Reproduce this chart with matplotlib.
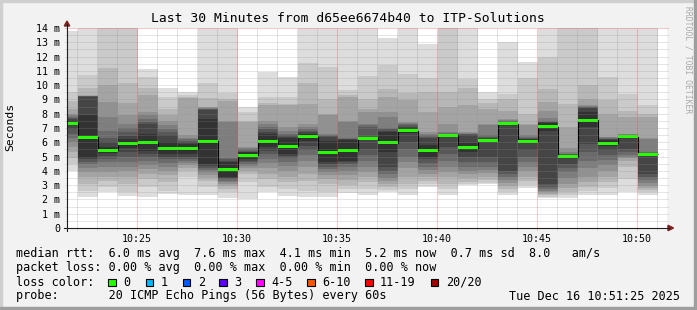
import matplotlib
matplotlib.use("Agg")
import matplotlib.pyplot as plt
from matplotlib.patches import Rectangle, Polygon
from matplotlib.lines import Line2D
import numpy as np

W, H = 697, 310
MONO = "DejaVu Sans Mono"

# 20 sorted ping times (ms) for each one-minute step, 10:21 .. 10:51
pings = [
    [4.0, 4.5, 4.9, 5.3, 5.7, 6.0, 6.3, 6.6, 6.9, 7.2, 7.5, 7.6, 7.7, 7.8, 7.9, 8.0, 8.35, 8.9, 9.5, 13.8],
    [2.2, 2.6, 3.1, 3.6, 3.9, 4.2, 4.45, 4.65, 4.8, 4.9, 7.9, 9.2, 9.22, 9.23, 9.24, 9.25, 9.3, 9.8, 10.7, 14.5],
    [2.55, 2.9, 3.3, 3.6, 3.95, 4.3, 4.6, 4.85, 5.05, 5.25, 5.7, 6.0, 6.3, 6.8, 7.75, 8.8, 10.0, 11.2, 14.2, 14.5],
    [2.25, 2.55, 3.1, 3.6, 4.0, 4.3, 4.65, 5.0, 5.3, 5.6, 6.2, 6.45, 6.7, 7.0, 7.3, 7.9, 8.75, 10.15, 14.2, 14.5],
    [2.2, 2.9, 3.4, 3.8, 4.1, 4.4, 4.7, 4.95, 5.2, 5.4, 6.6, 7.3, 7.4, 7.6, 7.9, 8.1, 9.3, 9.8, 10.6, 11.1],
    [2.35, 2.6, 3.2, 3.7, 4.0, 4.3, 4.55, 4.8, 5.0, 5.2, 6.0, 6.5, 6.7, 6.9, 7.2, 7.5, 7.9, 8.3, 9.2, 9.8],
    [2.3, 3.6, 4.0, 4.2, 4.4, 4.55, 4.7, 4.85, 5.0, 5.2, 5.9, 6.0, 6.1, 6.2, 6.3, 6.5, 9.1, 9.2, 9.3, 9.55],
    [2.3, 2.9, 3.3, 3.5, 3.7, 3.9, 4.05, 4.2, 4.35, 4.5, 7.6, 8.25, 8.3, 8.35, 8.4, 8.45, 8.5, 9.1, 10.15, 14.5],
    [2.1, 2.5, 2.75, 2.95, 3.1, 3.2, 3.3, 3.4, 3.5, 3.6, 4.6, 4.7, 4.8, 4.9, 7.4, 7.5, 8.9, 9.0, 9.45, 14.5],
    [2.05, 3.2, 3.8, 4.0, 4.2, 4.35, 4.5, 4.6, 4.7, 4.85, 5.3, 5.35, 5.4, 5.5, 5.6, 5.7, 7.4, 7.5, 8.1, 8.5],
    [2.5, 2.9, 3.4, 3.8, 4.2, 4.55, 4.85, 5.15, 5.4, 5.65, 6.6, 6.7, 6.9, 7.1, 7.3, 7.5, 8.6, 8.75, 9.2, 10.95],
    [2.25, 2.7, 3.2, 3.6, 4.0, 4.35, 4.65, 4.9, 5.05, 5.15, 6.3, 6.4, 6.5, 6.6, 6.8, 7.1, 8.6, 8.7, 9.2, 10.6],
    [2.15, 2.6, 3.3, 3.8, 4.3, 4.7, 5.1, 5.45, 5.75, 6.1, 6.6, 6.7, 6.8, 6.9, 7.1, 7.3, 8.7, 10.15, 11.55, 14.5],
    [2.2, 2.5, 3.1, 3.45, 3.7, 3.9, 4.1, 4.3, 4.45, 4.6, 6.1, 6.4, 6.45, 6.5, 6.6, 7.9, 8.0, 9.0, 11.3, 14.5],
    [2.45, 2.7, 3.0, 3.35, 3.7, 4.0, 4.25, 4.45, 4.6, 4.7, 6.15, 6.2, 6.25, 6.3, 7.4, 7.5, 9.2, 9.3, 9.65, 14.5],
    [2.3, 2.7, 3.2, 3.6, 3.9, 4.3, 4.7, 5.1, 5.55, 6.25, 6.35, 6.4, 7.1, 7.2, 7.3, 8.1, 8.3, 9.0, 10.66, 14.5],
    [2.5, 2.65, 2.85, 3.05, 3.3, 3.5, 3.75, 4.0, 4.3, 5.35, 6.7, 6.8, 6.9, 7.0, 7.8, 8.1, 9.2, 9.75, 11.4, 13.3],
    [2.3, 2.7, 3.1, 3.6, 4.2, 4.6, 5.0, 5.5, 6.0, 6.65, 7.0, 7.1, 7.2, 7.3, 7.35, 7.4, 8.95, 9.45, 10.75, 14.5],
    [2.9, 3.1, 3.3, 3.6, 3.8, 4.05, 4.3, 4.55, 4.8, 5.0, 5.8, 6.3, 6.4, 6.5, 6.6, 6.7, 8.1, 9.55, 10.5, 12.85],
    [2.3, 2.7, 3.1, 3.6, 3.9, 4.3, 4.7, 5.2, 5.7, 6.4, 6.5, 6.55, 6.6, 6.65, 6.7, 7.3, 8.5, 9.5, 14.3, 14.6],
    [3.0, 3.1, 3.25, 3.5, 3.8, 4.0, 4.3, 4.6, 5.0, 5.35, 5.95, 6.5, 6.55, 6.6, 6.65, 6.7, 8.6, 9.8, 10.4, 14.5],
    [3.05, 3.15, 3.35, 3.6, 3.85, 4.05, 4.3, 4.6, 5.0, 6.0, 6.25, 6.3, 6.4, 6.5, 7.2, 7.3, 8.35, 8.75, 9.0, 9.55],
    [2.3, 2.55, 2.75, 2.95, 3.15, 3.35, 3.55, 3.75, 4.0, 7.25, 7.35, 7.4, 7.45, 7.5, 7.55, 7.6, 8.2, 9.0, 9.35, 13.05],
    [2.8, 3.0, 3.3, 3.6, 4.0, 4.3, 4.6, 5.0, 5.45, 5.95, 6.2, 6.25, 6.3, 6.4, 6.5, 7.2, 7.3, 8.0, 10.5, 11.6],
    [2.1, 2.2, 2.3, 2.4, 2.5, 2.6, 2.75, 2.9, 3.1, 6.8, 7.35, 7.4, 7.45, 7.5, 7.7, 8.2, 8.8, 9.7, 12.0, 14.5],
    [2.1, 2.3, 2.5, 2.8, 3.1, 3.5, 3.9, 4.2, 4.5, 4.9, 5.05, 5.1, 5.15, 5.2, 5.3, 5.6, 7.1, 8.7, 14.4, 14.8],
    [2.3, 2.6, 2.9, 3.2, 3.6, 4.2, 4.7, 5.3, 5.9, 7.05, 8.1, 8.4, 8.45, 8.5, 8.55, 8.6, 9.05, 10.0, 14.4, 14.8],
    [2.3, 2.8, 3.2, 3.6, 4.0, 4.4, 4.75, 5.1, 5.45, 5.75, 6.15, 6.2, 6.25, 6.3, 6.35, 6.4, 8.0, 8.95, 10.55, 14.5],
    [2.5, 3.4, 4.3, 4.7, 4.9, 5.0, 5.1, 5.3, 5.55, 6.35, 6.4, 6.42, 6.45, 6.5, 6.55, 6.6, 7.8, 8.2, 9.4, 14.5],
    [2.33, 2.5, 2.65, 2.8, 2.95, 3.15, 3.35, 3.55, 3.8, 5.12, 5.18, 5.2, 5.25, 5.3, 6.2, 6.3, 7.8, 8.0, 8.6, 14.5],
]

# median rtt per minute (ms), green marks
medians = [7.32, 6.34, 5.46, 5.9, 5.99, 5.6, 5.55, 6.06, 4.1, 5.08,
           6.09, 5.71, 6.39, 5.32, 5.43, 6.27, 5.97, 6.81, 5.43, 6.48,
           5.62, 6.13, 7.3, 6.06, 7.09, 4.99, 7.56, 5.95, 6.39, 5.15]

minute_ticks = [25, 30, 35, 40, 45, 50]
minute_labels = ["10:25", "10:30", "10:35", "10:40", "10:45", "10:50"]
y_ticks = list(range(0, 15))
y_labels = ["0"] + ["%d m" % v for v in range(1, 15)]

loss_labels = ["0", "1", "2", "3", "4-5", "6-10", "11-19", "20/20"]
loss_colors = ["#26ff00", "#00b8ff", "#0059ff", "#5e00ff", "#ff00ff", "#ff5500", "#ff0000", "#a10000"]

title = "Last 30 Minutes from d65ee6674b40 to ITP-Solutions"
rtt_line = "median rtt:  6.0 ms avg  7.6 ms max  4.1 ms min  5.2 ms now  0.7 ms sd  8.0   am/s"
loss_line = "packet loss: 0.00 % avg  0.00 % max  0.00 % min  0.00 % now"
probe_line = "probe:       20 ICMP Echo Pings (56 Bytes) every 60s"
stamp = "Tue Dec 16 10:51:25 2025"


def fx(x):
    return x / W


def fy(y):
    return 1 - y / H


fig = plt.figure(figsize=(W / 100, H / 100), dpi=100, facecolor="#f2f2f2")
ax = fig.add_axes([fx(67), fy(228), 600 / W, 200 / H])
ax.set_facecolor("white")
for s in ax.spines.values():
    s.set_visible(False)

xmin, xmax = 21.5, 51.5
ax.set_xlim(xmin, xmax)
ax.set_ylim(0, 14)

# smoke: band i spans ping[i] .. ping[19-i], darker toward the middle
P = np.array(pings)
lefts = 21.05 + np.arange(len(pings))
for i in range(10):
    g = int(190 / 10 * (10 - (i + 1))) + 50
    ax.bar(lefts, P[:, 19 - i] - P[:, i], bottom=P[:, i], width=1.0, align="edge",
           color="#%02x%02x%02x" % (g, g, g), linewidth=0, antialiased=False, zorder=1)

# median step line and green loss-colored marks
med = np.array(medians)
ax.stairs(med, np.append(lefts, lefts[-1] + 1), baseline=None, color="black", lw=0.8, zorder=2)
ax.bar(lefts, 0.21, bottom=med - 0.105, width=1.0, align="edge", color=loss_colors[0],
       linewidth=0, antialiased=False, zorder=3)

# rrdtool style dotted grid, drawn over the data
dots = (0, (1, 1))
hgrid = np.arange(0.5, 14, 0.5)
ax.hlines(hgrid, xmin - 0.1, xmax + 0.1, colors="#8f8f8f", alpha=0.45, lw=0.72,
          linestyles=dots, clip_on=False, zorder=4)
ax.hlines([14], xmin - 0.1, xmax + 0.1, colors="#de4f4f", alpha=0.6, lw=0.72,
          linestyles=dots, clip_on=False, zorder=4)
minor_x = [m for m in range(22, 52) if m % 5 != 0]
ax.vlines(minor_x, -0.14, 14, colors="#8f8f8f", alpha=0.5, lw=0.72,
          linestyles=dots, clip_on=False, zorder=4)
ax.vlines(minute_ticks, -0.14, 14, colors="#de4f4f", alpha=0.6, lw=0.72,
          linestyles=dots, clip_on=False, zorder=4)

ax.set_xticks(minute_ticks, minute_labels, family=MONO, fontsize=7.2)
ax.set_yticks(y_ticks, y_labels, family=MONO, fontsize=7.2)
ax.tick_params(axis="x", length=0, pad=4.5)
ax.tick_params(axis="y", length=0, pad=5)

# axes with arrows
axis_col = "#1f1f1f"
arrow_col = "#7f1f1f"
fig.add_artist(Line2D([fx(67), fx(67)], [fy(231), fy(24)], color=axis_col, lw=0.8))
fig.add_artist(Line2D([fx(64), fx(669)], [fy(228), fy(228)], color=axis_col, lw=0.8))
fig.add_artist(Polygon([(fx(64.3), fy(26)), (fx(69.7), fy(26)), (fx(67), fy(21))],
                       closed=True, color=arrow_col, transform=fig.transFigure))
fig.add_artist(Polygon([(fx(668), fy(225.3)), (fx(668), fy(230.7)), (fx(673.5), fy(228))],
                       closed=True, color=arrow_col, transform=fig.transFigure))

# texts
fig.text(fx(348), fy(19), title, ha="center", va="center", family=MONO, fontsize=9.35)
fig.text(fx(10.5), fy(127), "Seconds", rotation=90, ha="center", va="center",
         family=MONO, fontsize=8.2)
fig.text(fx(688), fy(60), "RRDTOOL / TOBI OETIKER", rotation=270, ha="center", va="center",
         family=MONO, fontsize=5.8, color="#a8a8a8")

fig.text(fx(16), fy(254), rtt_line, ha="left", va="center", family=MONO, fontsize=8.5)
fig.text(fx(16), fy(268), loss_line, ha="left", va="center", family=MONO, fontsize=8.5)
fig.text(fx(16), fy(282), "loss color:", ha="left", va="center", family=MONO, fontsize=8.5)
fig.text(fx(16), fy(296), probe_line, ha="left", va="center", family=MONO, fontsize=8.5)
fig.text(fx(680), fy(296), stamp, ha="right", va="center", family=MONO, fontsize=8.5)

box_x = [108.3, 145.7, 182.7, 219.3, 256, 307.3, 365, 430.7]
for bx, lab, col in zip(box_x, loss_labels, loss_colors):
    fig.add_artist(Rectangle((fx(bx), fy(286)), 7.5 / W, 7.5 / H, facecolor=col,
                             edgecolor="black", lw=0.8, transform=fig.transFigure))
    fig.text(fx(bx + 15), fy(282), lab, ha="left", va="center", family=MONO, fontsize=8.5)

# border shading
fig.add_artist(Rectangle((0, fy(2)), 1, 2 / H, color="#cfcfcf", transform=fig.transFigure))
fig.add_artist(Rectangle((0, 0), 2 / W, 1, color="#cfcfcf", transform=fig.transFigure))
fig.add_artist(Rectangle((0, 0), 1, 3 / H, color="#9e9e9e", transform=fig.transFigure))
fig.add_artist(Rectangle((fx(W - 3), 0), 3 / W, 1, color="#9e9e9e", transform=fig.transFigure))

fig.savefig("out.png", dpi=100, facecolor=fig.get_facecolor())
